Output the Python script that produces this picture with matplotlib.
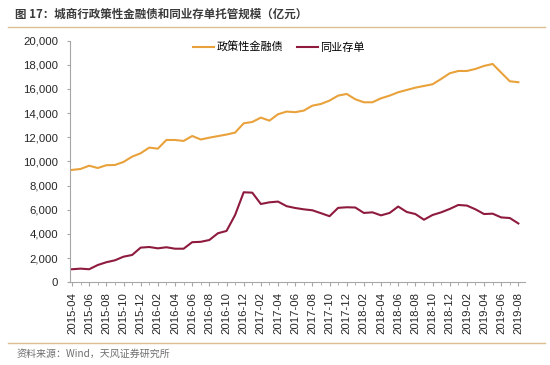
import matplotlib.pyplot as plt
from matplotlib.lines import Line2D
from matplotlib.ticker import FuncFormatter, MultipleLocator

plt.rcParams['font.family'] = ['Liberation Sans', 'Noto Sans CJK SC', 'DejaVu Sans']

months = []
for y in range(2015, 2020):
    for m in range(1, 13):
        if (y == 2015 and m < 4) or (y == 2019 and m > 8):
            continue
        months.append(f'{y}-{m:02d}')

policy_bonds = [9300, 9380, 9650, 9460, 9690, 9710, 9960, 10400, 10680,
                11150, 11060, 11780, 11780, 11700, 12110, 11820, 11970, 12100, 12230, 12390, 13160,
                13270, 13630, 13380, 13910, 14130, 14080, 14210, 14620, 14760, 15040, 15450, 15590,
                15150, 14900, 14900, 15230, 15450, 15730, 15920, 16110, 16250, 16390, 16830, 17300,
                17490, 17490, 17660, 17910, 18070, 17350, 16640, 16560]
ncds = [1080, 1130, 1080, 1430, 1660, 1820, 2120, 2260, 2870,
        2920, 2810, 2900, 2780, 2780, 3320, 3350, 3500, 4060, 4250, 5570, 7450,
        7420, 6480, 6620, 6680, 6300, 6150, 6040, 5960, 5720, 5470, 6160, 6210,
        6190, 5740, 5790, 5540, 5740, 6270, 5820, 5650, 5180, 5570, 5790, 6070,
        6400, 6350, 6040, 5650, 5680, 5370, 5320, 4870]

orange = '#E9A23B'
maroon = '#8E1B3E'

fig = plt.figure(figsize=(5.5, 3.65), dpi=100)
ax = fig.add_axes([0.127, 0.2266, 0.828, 0.662])

x = list(range(len(months)))
ax.plot(x, policy_bonds, color=orange, lw=1.5, label='政策性金融债')
ax.plot(x, ncds, color=maroon, lw=1.5, label='同业存单')

ax.set_ylim(0, 20000)
ax.set_xlim(-0.25, 52.8)
ax.yaxis.set_major_locator(MultipleLocator(2000))
ax.yaxis.set_major_formatter(FuncFormatter(lambda v, p: f'{int(v):,}'))
ax.set_xticks(x[::2])
ax.set_xticklabels(months[::2], rotation=90)
ax.set_xticks(x, minor=True)

for s in ['top', 'right']:
    ax.spines[s].set_visible(False)
for s in ['left', 'bottom']:
    ax.spines[s].set_color('#A6A6A6')
    ax.spines[s].set_linewidth(0.8)
ax.tick_params(axis='y', length=2.5, width=0.8, color='#A6A6A6', pad=6,
               labelsize=8.2, labelcolor='#262626')
ax.tick_params(axis='x', which='major', length=3, width=0.8, color='#A6A6A6', pad=4,
               labelsize=8.2, labelcolor='#262626')
ax.tick_params(axis='x', which='minor', length=2, width=0.6, color='#A6A6A6')

ax.legend(loc='center', bbox_to_anchor=(279 / 550, 1 - 47 / 365),
          bbox_transform=fig.transFigure, ncol=2, frameon=False,
          prop={'family': ['Noto Sans CJK SC'], 'size': 8},
          handlelength=1.9, handletextpad=0.2, columnspacing=1.2)

fig.text(15 / 550, 1 - 14 / 365, '图 17：城商行政策性金融债和同业存单托管规模（亿元）',
         ha='left', va='center', fontsize=8.3, color='#3A3A3A', weight='bold',
         family=['Noto Sans CJK SC', 'DejaVu Sans'])
fig.text(17 / 550, 1 - 354 / 365, '资料来源：Wind，天风证券研究所',
         ha='left', va='center', fontsize=7.2, color='#6E6E6E',
         family=['Noto Sans CJK SC', 'DejaVu Sans'])

fig.add_artist(Line2D([8 / 550, 545 / 550], [1 - 27 / 365, 1 - 27 / 365],
                      transform=fig.transFigure, color='#DDBE93', lw=1.0))
fig.add_artist(Line2D([8 / 550, 545 / 550], [1 - 343 / 365, 1 - 343 / 365],
                      transform=fig.transFigure, color='#DDBE93', lw=1.0))

fig.savefig('out.png', dpi=100)
